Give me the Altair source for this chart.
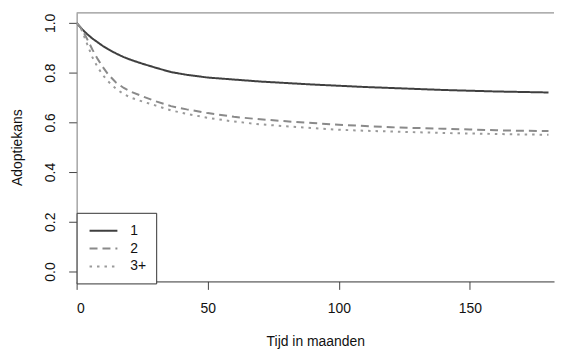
import altair as alt
import pandas as pd

# Time points (months) and Kaplan-Meier style survival estimates
months = [0, 2, 4, 6, 8, 10, 12, 15, 18, 21, 25, 30, 36, 42, 50, 60, 70, 80, 90,
          100, 110, 120, 130, 140, 150, 160, 170, 180]
surv_1 = [1.0, 0.975, 0.955, 0.937, 0.922, 0.907, 0.894, 0.877, 0.862, 0.850, 0.836,
          0.820, 0.802, 0.791, 0.780, 0.772, 0.764, 0.758, 0.752, 0.747, 0.742, 0.738,
          0.734, 0.730, 0.727, 0.724, 0.722, 0.720]
surv_2 = [1.0, 0.975, 0.935, 0.893, 0.855, 0.822, 0.793, 0.760, 0.738, 0.722, 0.705,
          0.685, 0.665, 0.652, 0.637, 0.622, 0.612, 0.604, 0.597, 0.590, 0.585, 0.580,
          0.577, 0.574, 0.571, 0.568, 0.566, 0.565]
surv_3 = [1.0, 0.970, 0.915, 0.862, 0.822, 0.790, 0.765, 0.735, 0.713, 0.698, 0.684,
          0.668, 0.648, 0.634, 0.618, 0.603, 0.592, 0.584, 0.577, 0.570, 0.566, 0.563,
          0.560, 0.557, 0.555, 0.553, 0.551, 0.550]

groups = ["1", "2", "3+"]
series = [surv_1, surv_2, surv_3]
colors = ["#3f3f3f", "#8a8a8a", "#9a9a9a"]
dashes = [[1, 0], [8, 5], [2.5, 5]]

x_ticks = [0, 50, 100, 150]
y_ticks = [0.0, 0.2, 0.4, 0.6, 0.8, 1.0]
x_domain = [0, 182.1]
y_domain = [-0.04, 1.04]

rows = []
for g, vals in zip(groups, series):
    for t, s in zip(months, vals):
        rows.append({"tijd": t, "kans": s, "groep": g})
df = pd.DataFrame(rows)

FONT = "Liberation Sans"

legend_opts = dict(title=None, orient="none", legendX=0, legendY=201,
                   strokeColor="#333", fillColor="white", padding=10,
                   symbolType="M-2,0H2", symbolSize=196, symbolStrokeWidth=2,
                   symbolOffset=9, labelOffset=19, rowPadding=3,
                   labelFontSize=14, labelFont=FONT, labelColor="#111")

x_scale = alt.Scale(domain=x_domain, nice=False, zero=False)
y_scale = alt.Scale(domain=y_domain, nice=False, zero=False)

lines = alt.Chart(df).mark_line(strokeWidth=2, clip=True).encode(
    x=alt.X("tijd:Q", scale=x_scale,
            axis=alt.Axis(values=x_ticks, title="Tijd in maanden", grid=False,
                          tickSize=8, tickColor="#444", domainColor="#333",
                          labelPadding=19, labelBaseline="middle",
                          labelFontSize=14, labelFont=FONT, labelColor="#111",
                          titleFontSize=14, titleFont=FONT, titleFontWeight="normal",
                          titleColor="#111", titleY=60, titleBaseline="middle")),
    y=alt.Y("kans:Q", scale=y_scale,
            axis=alt.Axis(values=y_ticks, format=".1f", title="Adoptiekans", grid=False,
                          tickSize=8, tickColor="#444", domainColor="#777",
                          labelAngle=270, labelAlign="center", labelBaseline="middle",
                          labelPadding=18, labelFontSize=14, labelFont=FONT,
                          labelColor="#111",
                          titleFontSize=14, titleFont=FONT, titleFontWeight="normal",
                          titleColor="#111", titleX=-59, titleY=135,
                          titleAlign="center", titleBaseline="middle")),
    color=alt.Color("groep:N",
                    scale=alt.Scale(domain=groups, range=colors),
                    legend=alt.Legend(**legend_opts)),
    strokeDash=alt.StrokeDash("groep:N",
                              scale=alt.Scale(domain=groups, range=dashes),
                              legend=alt.Legend(**legend_opts)),
)

# top frame line of the plot box (right side lies outside the picture)
top_frame = alt.Chart(pd.DataFrame({"a": [0]})).mark_rule(
    color="#777", strokeWidth=1
).encode(
    x=alt.datum(x_domain[0], scale=x_scale),
    x2=alt.datum(x_domain[1]),
    y=alt.datum(y_domain[1], scale=y_scale),
)

chart = alt.layer(lines, top_frame).properties(
    width=480, height=270, background="white",
    padding={"left": 3, "top": 3, "right": 0, "bottom": 0},
).configure_view(stroke="transparent")

chart.save("out.html", embed_options={"renderer": "svg", "actions": False})
